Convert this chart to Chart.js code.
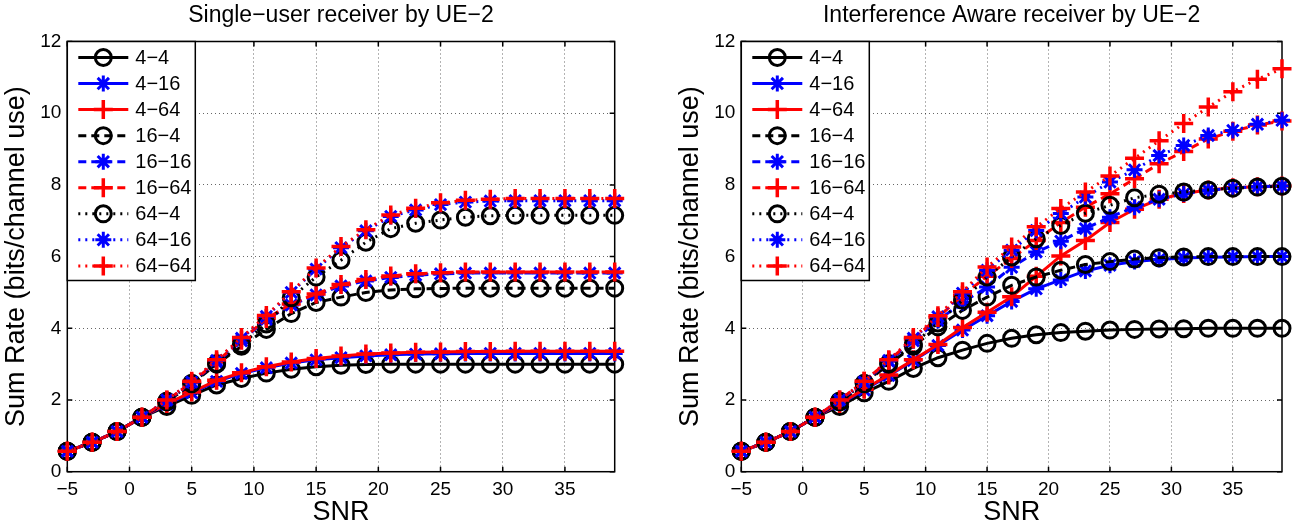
<!DOCTYPE html>
<html>
<head>
<meta charset="utf-8">
<title>Sum rate vs SNR</title>
<script src="https://cdn.jsdelivr.net/npm/chart.js@4.4.1/dist/chart.umd.min.js"></script>
<style>
  html, body { margin: 0; padding: 0; background: #fff; }
  #wrap { position: relative; width: 1295px; height: 528px; overflow: hidden; }
  .pane { position: absolute; top: 0; height: 528px; }
  #su-pane { left: 0; width: 674px; }
  #ia-pane { left: 674px; width: 621px; }
</style>
</head>
<body>
<div id="wrap">
  <div class="pane" id="su-pane"><canvas id="su-chart"></canvas></div>
  <div class="pane" id="ia-pane"><canvas id="ia-chart"></canvas></div>
</div>
<script>
const snr = [-5, -3, -1, 1, 3, 5, 7, 9, 11, 13, 15, 17, 19, 21, 23, 25, 27, 29, 31, 33, 35, 37, 39];
const xTicks = [-5, 0, 5, 10, 15, 20, 25, 30, 35];
const yTicks = [0, 2, 4, 6, 8, 10, 12];
const seriesNames = ['4−4', '4−16', '4−64', '16−4', '16−16', '16−64', '64−4', '64−16', '64−64'];

// Single-user receiver
const su44   = [0.57, 0.82, 1.12, 1.52, 1.82, 2.13, 2.42, 2.60, 2.75, 2.86, 2.93, 2.97, 2.99, 3.00, 3.00, 3.00, 3.00, 3.00, 3.00, 3.00, 3.00, 3.00, 3.00];
const su416  = [0.57, 0.82, 1.12, 1.52, 1.88, 2.20, 2.52, 2.74, 2.90, 3.03, 3.12, 3.18, 3.23, 3.26, 3.28, 3.29, 3.30, 3.30, 3.30, 3.30, 3.30, 3.30, 3.30];
const su464  = [0.57, 0.82, 1.12, 1.52, 1.90, 2.22, 2.55, 2.76, 2.93, 3.06, 3.16, 3.23, 3.28, 3.31, 3.33, 3.34, 3.35, 3.35, 3.36, 3.36, 3.36, 3.36, 3.36];
const su164  = [0.57, 0.82, 1.12, 1.52, 1.95, 2.45, 3.00, 3.50, 3.97, 4.41, 4.72, 4.87, 5.00, 5.07, 5.10, 5.11, 5.12, 5.12, 5.12, 5.12, 5.12, 5.12, 5.12];
const su1616 = [0.57, 0.82, 1.12, 1.52, 1.98, 2.48, 3.05, 3.65, 4.25, 4.65, 4.93, 5.18, 5.32, 5.42, 5.48, 5.52, 5.54, 5.54, 5.54, 5.54, 5.54, 5.54, 5.54];
const su1664 = [0.57, 0.82, 1.12, 1.52, 1.99, 2.49, 3.07, 3.67, 4.27, 4.68, 4.96, 5.22, 5.36, 5.46, 5.52, 5.55, 5.57, 5.57, 5.57, 5.57, 5.57, 5.57, 5.57];
const su644  = [0.57, 0.82, 1.12, 1.52, 1.97, 2.47, 3.02, 3.55, 4.12, 4.85, 5.43, 5.90, 6.40, 6.78, 6.93, 7.02, 7.10, 7.14, 7.15, 7.15, 7.15, 7.15, 7.15];
const su6416 = [0.57, 0.82, 1.12, 1.52, 2.00, 2.50, 3.10, 3.72, 4.33, 5.00, 5.65, 6.25, 6.72, 7.12, 7.30, 7.45, 7.52, 7.55, 7.56, 7.56, 7.56, 7.56, 7.56];
const su6464 = [0.57, 0.82, 1.12, 1.52, 2.00, 2.52, 3.12, 3.74, 4.36, 5.02, 5.68, 6.28, 6.75, 7.16, 7.35, 7.50, 7.57, 7.60, 7.62, 7.62, 7.62, 7.62, 7.62];

// Interference aware receiver
const ia44   = [0.57, 0.82, 1.12, 1.52, 1.82, 2.20, 2.52, 2.88, 3.18, 3.39, 3.58, 3.72, 3.82, 3.88, 3.92, 3.95, 3.97, 3.98, 3.99, 4.00, 4.00, 4.00, 4.00];
const ia416  = [0.57, 0.82, 1.12, 1.52, 1.88, 2.28, 2.68, 3.10, 3.52, 3.95, 4.35, 4.75, 5.10, 5.35, 5.60, 5.76, 5.86, 5.92, 5.96, 5.98, 5.99, 6.00, 6.00];
const ia464  = [0.57, 0.82, 1.12, 1.52, 1.90, 2.30, 2.70, 3.12, 3.55, 4.02, 4.45, 4.88, 5.45, 6.02, 6.45, 6.95, 7.32, 7.60, 7.76, 7.86, 7.92, 7.95, 7.97];
const ia164  = [0.57, 0.82, 1.12, 1.52, 1.95, 2.45, 3.00, 3.50, 4.04, 4.50, 4.87, 5.20, 5.43, 5.62, 5.78, 5.86, 5.93, 5.97, 5.99, 6.00, 6.00, 6.00, 6.00];
const ia1616 = [0.57, 0.82, 1.12, 1.52, 1.98, 2.50, 3.08, 3.65, 4.22, 4.72, 5.15, 5.70, 6.13, 6.43, 6.78, 7.10, 7.38, 7.60, 7.75, 7.85, 7.91, 7.95, 7.97];
const ia1664 = [0.57, 0.82, 1.12, 1.52, 2.00, 2.52, 3.10, 3.70, 4.30, 4.92, 5.45, 5.95, 6.45, 6.95, 7.38, 7.75, 8.17, 8.59, 8.93, 9.28, 9.50, 9.67, 9.78];
const ia644  = [0.57, 0.82, 1.12, 1.52, 1.97, 2.47, 3.02, 3.55, 4.15, 4.78, 5.43, 5.99, 6.50, 6.87, 7.21, 7.43, 7.64, 7.74, 7.80, 7.86, 7.91, 7.94, 7.96];
const ia6416 = [0.57, 0.82, 1.12, 1.52, 2.00, 2.50, 3.10, 3.72, 4.32, 4.98, 5.62, 6.18, 6.73, 7.20, 7.66, 8.08, 8.42, 8.82, 9.10, 9.38, 9.52, 9.69, 9.80];
const ia6464 = [0.57, 0.82, 1.12, 1.52, 2.00, 2.52, 3.12, 3.74, 4.35, 5.02, 5.71, 6.27, 6.83, 7.34, 7.80, 8.25, 8.74, 9.23, 9.71, 10.17, 10.60, 10.95, 11.24];

const FONT = "'Liberation Sans', Arial, Helvetica, sans-serif";
const colors  = ['#000000', '#0000ff', '#ff0000'];
const markers = ['circle', 'star', 'cross'];
const dashes  = [[], [8, 5], [2, 5]];

function markerSize(marker) {
    if (marker === 'circle') return 8;
    if (marker === 'star') return 8;
    return 9.5;
}

function makeDatasets(series) {
    return series.map(function(vals, i) {
        const marker = markers[i % 3];
        const color = colors[i % 3];
        return {
            label: seriesNames[i],
            data: snr.map((s, k) => ({ x: s, y: vals[k] })),
            borderColor: color,
            backgroundColor: 'rgba(0,0,0,0)',
            borderWidth: 3,
            borderDash: dashes[Math.floor(i / 3)],
            pointStyle: marker,
            pointRadius: markerSize(marker),
            pointBorderWidth: marker === 'cross' ? 3.5 : 3,
            pointBorderColor: color,
            pointBackgroundColor: 'rgba(0,0,0,0)',
            tension: 0,
            clip: false,
            order: series.length - 1 - i // later series on top, like matlab
        };
    });
}

function drawMarker(ctx, marker, x, y, r) {
    ctx.setLineDash([]);
    ctx.beginPath();
    if (marker === 'circle') {
        ctx.arc(x, y, r, 0, Math.PI * 2);
    } else {
        ctx.moveTo(x - r, y); ctx.lineTo(x + r, y);
        ctx.moveTo(x, y - r); ctx.lineTo(x, y + r);
        if (marker === 'star') {
            const d = r * Math.SQRT1_2;
            ctx.moveTo(x - d, y - d); ctx.lineTo(x + d, y + d);
            ctx.moveTo(x - d, y + d); ctx.lineTo(x + d, y - d);
        }
    }
    ctx.stroke();
}

// box round the axes + inward tick marks
const framePlugin = {
    id: 'frame',
    beforeDatasetsDraw(chart) {
        const ctx = chart.ctx;
        const a = chart.chartArea;
        const xs = chart.scales.x, ys = chart.scales.y;
        ctx.save();
        ctx.strokeStyle = '#000';
        ctx.lineWidth = 1.5;
        ctx.setLineDash([]);
        ctx.strokeRect(a.left, a.top, a.right - a.left, a.bottom - a.top);
        ctx.beginPath();
        xTicks.forEach(function(v) {
            const px = xs.getPixelForValue(v);
            ctx.moveTo(px, a.bottom); ctx.lineTo(px, a.bottom - 5);
            ctx.moveTo(px, a.top); ctx.lineTo(px, a.top + 5);
        });
        yTicks.forEach(function(v) {
            const py = ys.getPixelForValue(v);
            ctx.moveTo(a.left, py); ctx.lineTo(a.left + 5, py);
            ctx.moveTo(a.right, py); ctx.lineTo(a.right - 5, py);
        });
        ctx.stroke();
        ctx.restore();
    }
};

// matlab style legend in the upper left corner
const legendPlugin = {
    id: 'boxLegend',
    afterDraw(chart) {
        const ctx = chart.ctx;
        const a = chart.chartArea;
        const x0 = a.left, y0 = a.top;
        const w = 128, h = 239, rowH = 26.05;
        ctx.save();
        ctx.fillStyle = '#fff';
        ctx.fillRect(x0, y0, w, h);
        ctx.strokeStyle = '#000';
        ctx.lineWidth = 1.5;
        ctx.setLineDash([]);
        ctx.strokeRect(x0, y0, w, h);
        chart.data.datasets.forEach(function(ds, i) {
            const y = y0 + 16 + i * rowH;
            ctx.strokeStyle = ds.borderColor;
            ctx.lineWidth = ds.borderWidth;
            ctx.setLineDash(ds.borderDash);
            ctx.beginPath();
            ctx.moveTo(x0 + 11, y);
            ctx.lineTo(x0 + 61, y);
            ctx.stroke();
            ctx.lineWidth = ds.pointBorderWidth;
            drawMarker(ctx, ds.pointStyle, x0 + 36, y, ds.pointRadius);
            ctx.fillStyle = '#000';
            ctx.font = '20px ' + FONT;
            ctx.textBaseline = 'middle';
            ctx.textAlign = 'left';
            ctx.fillText(ds.label, x0 + 68, y + 1);
        });
        ctx.restore();
    }
};

function tickText(v) {
    return v < 0 ? '−' + Math.abs(v) : String(v);
}

function makeChart(canvasId, title, series, padRight) {
    const ctx = document.getElementById(canvasId);
    return new Chart(ctx, {
        type: 'line',
        data: { datasets: makeDatasets(series) },
        plugins: [framePlugin, legendPlugin],
        options: {
            responsive: true,
            maintainAspectRatio: false,
            animation: false,
            events: [],
            layout: { padding: { left: 0, right: padRight, top: 0, bottom: 0 } },
            plugins: {
                legend: { display: false },
                tooltip: { enabled: false },
                title: {
                    display: true,
                    text: title,
                    color: '#000',
                    fullSize: false,
                    font: { family: FONT, size: 23, weight: 'normal', lineHeight: 1 },
                    padding: { top: 4, bottom: 14.5 }
                }
            },
            scales: {
                x: {
                    type: 'linear',
                    min: -5,
                    max: 39,
                    afterBuildTicks: scale => { scale.ticks = xTicks.map(v => ({ value: v })); },
                    afterFit: scale => { scale.height = 56.3; },
                    ticks: {
                        color: '#000',
                        font: { family: FONT, size: 19 },
                        padding: 7,
                        maxRotation: 0,
                        autoSkip: false,
                        callback: tickText
                    },
                    grid: { color: 'rgba(0,0,0,0.6)', lineWidth: 1, drawTicks: false },
                    border: { display: false, dash: [1, 3] },
                    title: {
                        display: true,
                        text: 'SNR',
                        color: '#000',
                        font: { family: FONT, size: 27, lineHeight: 1 },
                        padding: { top: 0, bottom: 1.5 }
                    }
                },
                y: {
                    type: 'linear',
                    min: 0,
                    max: 12,
                    afterBuildTicks: scale => { scale.ticks = yTicks.map(v => ({ value: v })); },
                    afterFit: scale => { scale.width = 67.3; },
                    ticks: {
                        color: '#000',
                        font: { family: FONT, size: 19 },
                        padding: 6,
                        callback: tickText
                    },
                    grid: { color: 'rgba(0,0,0,0.6)', lineWidth: 1, drawTicks: false },
                    border: { display: false, dash: [1, 3] },
                    title: {
                        display: true,
                        text: 'Sum Rate (bits/channel use)',
                        color: '#000',
                        font: { family: FONT, size: 27, lineHeight: 1 },
                        padding: { top: 3.5, bottom: 0 }
                    }
                }
            }
        }
    });
}

document.addEventListener('DOMContentLoaded', function() {
    makeChart('su-chart', 'Single−user receiver by UE−2',
        [su44, su416, su464, su164, su1616, su1664, su644, su6416, su6464], 59.3);
    makeChart('ia-chart', 'Interference Aware receiver by UE−2',
        [ia44, ia416, ia464, ia164, ia1616, ia1664, ia644, ia6416, ia6464], 6.7);
});
</script>
</body>
</html>
